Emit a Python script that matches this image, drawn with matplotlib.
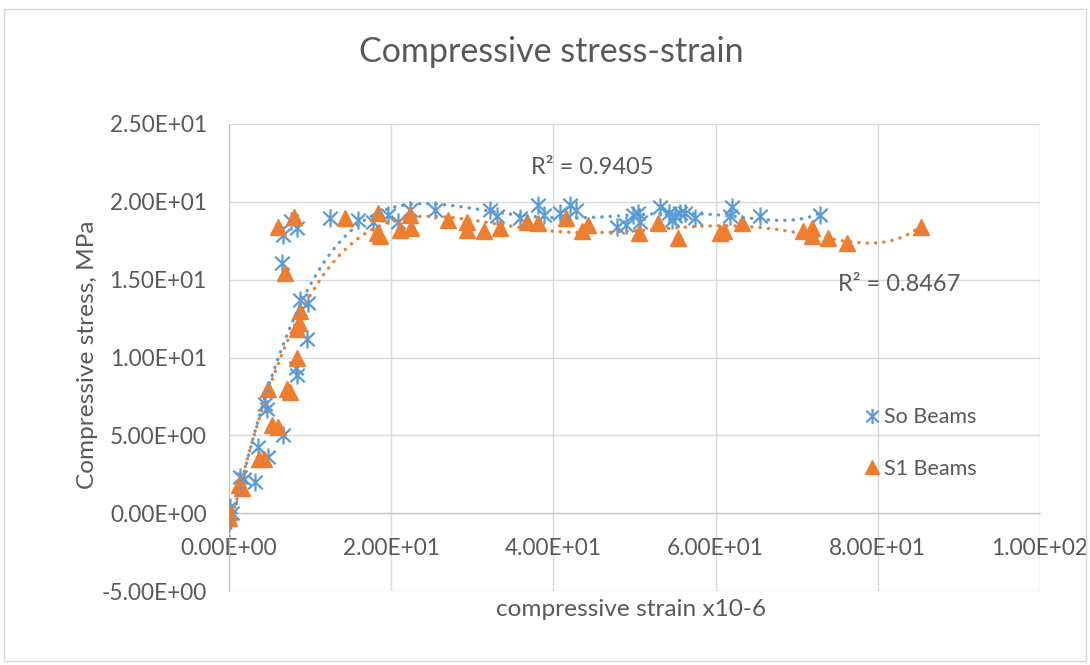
import numpy as np
import matplotlib.pyplot as plt
from matplotlib.patches import Rectangle
from matplotlib.path import Path

plt.rcParams['font.family'] = ['Lato', 'DejaVu Sans']

# So Beams (strain x10-6, stress MPa)
so_x = [0.1, 0.4, 1.3, 1.8, 3.2, 3.6, 4.85, 4.4, 4.7, 6.7, 8.3, 8.4, 9.6,
        8.75, 9.8, 6.5, 6.7, 7.7, 8.35, 12.45, 15.9, 17.8, 19.6, 20.9, 22.3,
        25.4, 32.2, 33.0, 35.9, 38.1, 38.8, 40.8, 42.0, 42.8, 47.8, 49.0,
        49.85, 50.7, 50.4, 53.1, 54.2, 54.6, 55.0, 55.6, 56.2, 57.5, 62.0,
        61.8, 65.5, 72.9]
so_y = [0.4, 0.0, 2.3, 2.2, 2.0, 4.26, 3.62, 7.0, 6.7, 5.02, 9.3, 8.87, 11.17,
        13.7, 13.5, 16.06, 17.88, 18.8, 18.3, 18.95, 18.84, 18.73, 19.16, 18.73,
        19.49, 19.49, 19.49, 19.06, 18.95, 19.8, 19.16, 19.27, 19.8, 19.5,
        18.4, 18.5, 19.16, 18.73, 19.3, 19.7, 19.27, 18.84, 19.06, 19.27, 19.27,
        18.95, 19.7, 19.06, 19.06, 19.16]

# S1 Beams
s1_x = [0.0, 0.05, 1.2, 1.6, 3.7, 4.3, 4.77, 5.34, 6.08, 7.2, 7.5, 8.35, 8.4,
        8.6, 8.7, 6.9, 6.08, 8.05, 14.3, 18.4, 18.2, 18.6, 21.1, 22.3, 22.5,
        27.0, 29.3, 29.3, 31.4, 33.4, 36.7, 38.1, 41.6, 43.5, 44.3, 50.5, 52.9,
        55.4, 60.5, 61.0, 63.2, 70.8, 71.9, 71.9, 73.9, 76.2, 85.3]
s1_y = [0.1, -0.3, 1.8, 1.6, 3.5, 3.5, 7.97, 5.66, 5.55, 8.0, 7.8, 9.95, 11.8,
        12.2, 13.0, 15.4, 18.4, 19.05, 18.95, 19.27, 18.0, 17.8, 18.2, 19.16,
        18.3, 18.84, 18.73, 18.2, 18.1, 18.3, 18.73, 18.63, 18.95, 18.1, 18.5,
        17.98, 18.63, 17.66, 17.98, 18.1, 18.63, 18.1, 18.3, 17.78, 17.66,
        17.34, 18.4]

blue = '#5B9BD5'
orange = '#ED7D31'
txt = '#595959'

# Excel style star: an X with a vertical stroke
star = Path([(0, -1), (0, 1), (-0.8, -0.75), (0.8, 0.75), (-0.8, 0.75), (0.8, -0.75)],
            [Path.MOVETO, Path.LINETO] * 3)

fig = plt.figure(figsize=(10.9, 6.65), dpi=100)
fig.patches.append(Rectangle((4 / 1090, 1 - 661 / 665), 1082 / 1090, 652 / 665,
                             transform=fig.transFigure, fill=False,
                             edgecolor='#D9D9D9', lw=1))
ax = fig.add_axes([229 / 1090, 1 - 591 / 665, 811 / 1090, 467 / 665])

ax.plot(so_x, so_y, ls='none', marker=star, ms=13, mew=1.6,
        color=blue, label='So Beams', zorder=3)
ax.plot(s1_x, s1_y, ls='none', marker='^', ms=12, color=orange,
        label='S1 Beams', zorder=3)

# polynomial trendlines (order 6, like Excel)
for xs, ys, c in [(so_x, so_y, blue), (s1_x, s1_y, orange)]:
    p = np.polynomial.Polynomial.fit(xs, ys, 6)
    xx = np.linspace(0, max(xs), 300)
    ax.plot(xx, p(xx), color=c, lw=2.4, ls=(0, (0.1, 2.4)),
            dash_capstyle='round', zorder=4)

ax.text(37.2, 22.2, 'R² = 0.9405', fontsize=17, color=txt, va='center')
ax.text(75.1, 14.66, 'R² = 0.8467', fontsize=17, color=txt, va='center')

ax.set_xlim(0, 100)
ax.set_ylim(-5, 25)
ax.set_xticks(np.arange(0, 101, 20))
ax.set_yticks(np.arange(-5, 26, 5))
ax.xaxis.set_major_formatter(lambda v, pos: '{:.2E}'.format(v))
ax.yaxis.set_major_formatter(lambda v, pos: '{:.2E}'.format(v))
ax.tick_params(length=0, labelsize=16.3, labelcolor=txt)
ax.tick_params(axis='x', pad=18)
ax.tick_params(axis='y', pad=16)
ax.grid(True, color='#D9D9D9', lw=1)
ax.set_axisbelow(True)
for s in ['top', 'right']:
    ax.spines[s].set_visible(False)
ax.spines['bottom'].set_position(('data', 0))
ax.spines['bottom'].set_color('#BFBFBF')
ax.spines['left'].set_color('#BFBFBF')

fig.text(551 / 1090, 1 - 52 / 665, 'Compressive stress-strain', fontsize=24.5,
         color=txt, ha='center', va='center')
fig.text(88 / 1090, 1 - 355 / 665, 'Compressive stress, MPa', fontsize=17.6,
         color=txt, ha='center', va='center', rotation=90)
fig.text(631 / 1090, 1 - 610 / 665, 'compressive strain x10-6', fontsize=17.6,
         color=txt, ha='center', va='center')

fig.legend(loc='center left', bbox_to_anchor=(844 / 1090, 1 - 443 / 665),
           frameon=False, fontsize=15.5, labelcolor=txt, handlelength=0.8,
           handletextpad=0.15, labelspacing=1.45, markerscale=0.85)

fig.savefig('out.png', dpi=100)
